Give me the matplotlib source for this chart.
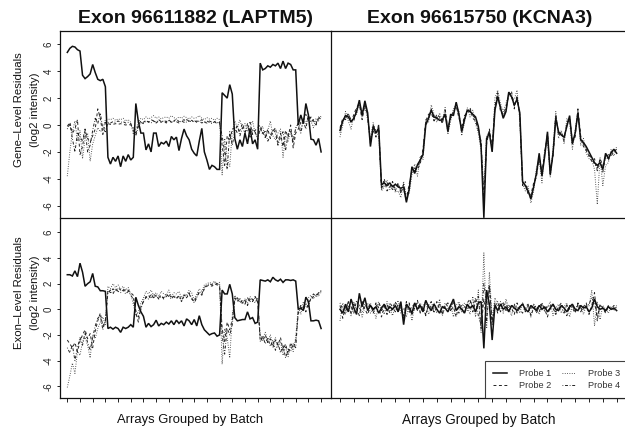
import numpy as np
import matplotlib
matplotlib.use('Agg')
import matplotlib.pyplot as plt

plt.rcParams['font.family'] = ['Liberation Sans', 'DejaVu Sans']

# ---------------- text ----------------
titles = ['Exon 96611882 (LAPTM5)', 'Exon 96615750 (KCNA3)']
row_label_1 = ['Gene\u2013Level Residuals', '(log2 intensity)']
row_label_2 = ['Exon\u2013Level Residuals', '(log2 intensity)']
x_label = 'Arrays Grouped by Batch'
probe_names = ['Probe 1', 'Probe 2', 'Probe 3', 'Probe 4']
y_ticks = [-6, -4, -2, 0, 2, 4, 6]
y_tick_labels = ['-6', '-4', '-2', '0', '2', '4', '6']
x_ticks = list(range(0, 101, 5))

# ---------------- data: gene-level residuals, LAPTM5 ----------------
gene_laptm5_p1 = [5.4, 5.7, 5.85, 5.8, 5.6, 5.5, 3.7, 3.45, 3.6, 3.8,
                  4.5, 3.9, 3.4, 3.3, 3.4, 2.85, -2.4, -2.9, -2.4, -2.7,
                  -2.3, -3.1, -2.3, -2.7, -2.2, -2.6, -2.4, 1.6, 0.25, -0.6,
                  -0.6, -1.85, -1.4, -2.0, -0.6, -0.6, -1.6, -1.3, -1.4, -1.2,
                  -1.6, -0.85, -1.1, -0.9, -1.9, -1.0, -0.3, -0.8, -1.1, -1.8,
                  -2.1, -2.3, -1.2, -0.25, -2.0, -2.6, -3.3, -3.0, -3.1, -3.3,
                  -3.3, 2.4, 2.2, 2.0, 3.0, 2.3, -1.0, -1.8, -1.1, -1.6,
                  -0.6, -1.4, -0.25, -1.4, -1.1, -1.8, 4.6, 4.1, 4.2, 4.4,
                  4.3, 4.5, 4.4, 4.6, 4.2, 4.75, 4.2, 4.6, 4.5, 4.1,
                  4.1, 0.0, 0.75, 0.1, 1.6, 0.75, -1.05, -1.1, -1.5, -1.0,
                  -2.0]
gene_laptm5_p2 = [-0.1, 0.2, -0.6, -0.3, 0.4, -2.2, -1.6, -0.4, -1.0, -1.3, -0.8, -0.3, 1.2, 0.5, -0.7, 0.2,
                  0.1, 0.05, 0.05, 0.1, 0.05, 0.1, 0.05, 0.0, 0.05, 0.0, -0.1, -0.6, 0.0,
                  0.3, 0.2, 0.35, 0.2, 0.4, 0.3, 0.15, 0.3, 0.2, 0.35, 0.25, 0.4, 0.2, 0.3, 0.45, 0.25,
                  0.3, 0.2, 0.4, 0.3, 0.35, 0.2, 0.3, 0.25, 0.4, 0.2, 0.15, 0.3, 0.2, 0.25, 0.1, 0.2,
                  -1.5, -3.0, -0.8, -1.2, -0.3,
                  -0.2, -0.6, -0.4, 0.1, -0.5, -0.3, 0.2, -0.7, -0.4, -0.2, 0.0, -0.6, -0.9, -0.3, -1.0,
                  -0.5, -0.2, -1.3, -0.6, -1.6, -0.4, -0.9, 0.0, -1.7, -0.6,
                  -0.3, 0.2, 0.4, 0.8, 0.3, 0.6, 0.3, 0.0, 0.5, 0.6]
gene_laptm5_p3 = [-3.8, -2.0, -0.5, 0.3, -1.2, -0.4, -2.5, -1.0, -0.6, -2.7, -1.4, -0.8, -0.2, -0.5, -0.3, 0.4,
                  0.45, 0.4, 0.5, 0.35, 0.45, 0.4, 0.5, 0.3, 0.4, 0.2, -0.7, -0.3, 0.2,
                  0.5, 0.4, 0.6, 0.45, 0.55, 0.7, 0.5, 0.6, 0.45, 0.55, 0.6, 0.5, 0.7, 0.55, 0.45, 0.6,
                  0.5, 0.65, 0.55, 0.45, 0.6, 0.5, 0.55, 0.7, 0.5, 0.4, 0.55, 0.45, 0.5, 0.35, 0.5, 0.4,
                  -3.7, -1.0, -2.5, -3.1, -0.5,
                  0.3, -0.2, 0.4, -0.3, 0.1, -0.5, -0.2, 0.3, -0.6, -0.9, -0.4, -0.1, -1.0, -0.4, 0.3,
                  -0.8, -1.1, -0.6, -0.3, -2.4, -0.8, -1.2, -0.5, -1.0, -0.3,
                  0.2, -0.4, 0.5, 0.1, 0.6, 0.3, -0.2, 0.5, 0.3, 0.7]
gene_laptm5_p4 = [-0.3, 0.1, -1.0, -2.0, -0.6, -0.9, -1.2, -0.3, -2.0, -1.5, -0.4, 0.5, 0.1, 0.9, -0.3, -0.5,
                  0.2, 0.15, 0.25, 0.2, 0.3, 0.2, 0.25, 0.15, 0.2, 0.1, -0.4, -0.8, -0.1,
                  0.2, 0.1, 0.3, 0.25, 0.15, 0.3, 0.2, 0.4, 0.25, 0.3, 0.15, 0.35, 0.2, 0.3, 0.25, 0.15,
                  0.3, 0.4, 0.2, 0.3, 0.25, 0.35, 0.2, 0.3, 0.15, 0.25, 0.3, 0.2, 0.1, 0.25, 0.2, 0.1,
                  -0.8, -2.0, -3.3, -0.5, -1.5,
                  -0.5, 0.0, -0.8, -0.2, -0.6, 0.1, -0.9, -0.3, -0.5, -1.1, -0.2, -0.7, -0.4, -1.2, -0.8,
                  -0.3, -0.6, -1.5, -0.9, -0.5, -1.9, -0.7, -0.4, -1.3, -0.2,
                  0.1, -0.6, 0.3, -0.3, 0.8, 0.2, 0.4, 0.1, 0.6, 0.4]

# ---------------- data: gene-level residuals, KCNA3 ----------------
gene_kcna3_p1 = [-0.4, 0.3, 0.7, 0.6, 0.25, 0.5, 1.0, 1.85, 0.7, 1.8, 0.9,
                 -1.6, -0.1, -0.6, -0.2, -4.45, -4.3, -4.5, -4.3, -4.6, -4.4,
                 -4.6, -4.7, -4.6, -5.75, -4.8, -3.1, -3.6, -2.95, -2.6, -2.2,
                 0.0, 0.5, 1.1, 0.6, 0.5, 0.35, 0.4, 0.8, -0.5, 0.8,
                 0.7, 1.7, 0.8, -0.5, 0.4, 1.1, 1.0, 0.8, 0.6, -0.1,
                 -1.6, -6.9, -1.0, -0.6, -2.0, 1.1, 2.1, 1.3, 0.5, 1.0,
                 2.45, 2.1, 1.5, 1.9, 0.9, -4.2, -4.5, -4.9, -5.5, -4.6,
                 -3.6, -2.1, -3.8, -2.3, -0.5, -3.7, -2.1, 0.5, -0.5, -0.75,
                 -0.9, -0.1, 0.7, -1.4, -0.6, 0.9, -1.1, -1.3, -1.6, -2.0,
                 -2.4, -2.8, -3.0, -2.8, -3.3, -2.1, -2.5, -2.05, -1.8, -2.1]
gene_kcna3_p2 = [-0.2, 0.5, 0.4, 0.9, 0.1, 0.8, 1.3, 1.5, 0.4, 1.5, 0.6,
                 -1.2, -0.4, -0.9, 0.1, -4.8, -4.0, -4.9, -4.6, -4.2, -4.9,
                 -4.3, -5.1, -4.4, -5.5, -4.4, -3.4, -3.2, -3.3, -2.9, -1.8,
                 0.3, 0.8, 0.9, 0.3, 0.8, 0.6, 0.1, 1.1, -0.2, 0.5,
                 1.0, 1.4, 0.5, -0.2, 0.7, 0.9, 1.3, 0.5, 0.3, -0.4,
                 -1.2, -5.5, -1.4, -0.3, -1.6, 1.4, 2.4, 1.0, 0.8, 1.3,
                 2.2, 2.5, 1.2, 2.2, 0.6, -4.5, -4.2, -5.2, -5.2, -4.3,
                 -3.9, -2.4, -3.5, -2.0, -0.8, -3.4, -2.4, 0.8, -0.8, -0.5,
                 -1.2, 0.2, 0.4, -1.1, -0.9, 1.2, -0.8, -1.6, -1.9, -2.3,
                 -2.7, -2.5, -3.4, -2.5, -3.0, -2.4, -2.2, -2.3, -2.0, -1.8]
gene_kcna3_p3 = [-0.9, 0.0, 1.0, 0.3, -0.3, 0.7, 0.8, 1.6, 1.0, 1.4, 0.4,
                 -1.0, 0.2, -0.8, -0.6, -4.9, -4.6, -4.1, -4.8, -4.4, -5.0,
                 -4.9, -5.4, -4.2, -5.3, -5.1, -3.7, -2.9, -3.8, -2.3, -2.6,
                 0.4, 0.2, 1.5, 0.8, 0.2, 0.9, 0.3, 1.3, -0.7, 0.3,
                 1.2, 1.5, 1.0, -0.8, 0.2, 1.3, 0.6, 1.1, 0.1, -0.6,
                 -1.9, -4.5, -0.8, -0.4, -1.8, 2.0, 2.6, 1.6, 1.0, 1.6,
                 2.3, 2.0, 1.9, 2.6, 0.3, -4.4, -4.9, -4.5, -5.8, -4.9,
                 -3.2, -2.6, -4.3, -1.8, -1.2, -3.9, -1.7, 1.0, -1.0, -0.4,
                 -1.4, 0.5, 0.2, -1.8, -0.4, 1.1, -1.5, -1.0, -2.1, -2.5,
                 -2.6, -3.3, -5.9, -2.4, -4.5, -3.0, -2.8, -1.8, -2.3, -1.6]
gene_kcna3_p4 = [-0.6, 0.4, 0.5, 0.8, 0.4, 0.3, 1.2, 1.7, 0.6, 1.6, 0.7,
                 -1.4, 0.0, -0.4, -0.4, -4.6, -4.5, -4.3, -4.5, -4.8, -4.6,
                 -4.4, -4.9, -4.8, -5.6, -4.6, -3.3, -3.4, -3.1, -2.7, -2.0,
                 0.2, 0.6, 1.2, 0.4, 0.6, 0.5, 0.2, 0.9, -0.4, 0.6,
                 0.9, 1.6, 0.7, -0.4, 0.5, 1.0, 1.1, 0.7, 0.5, -0.2,
                 -1.4, -6.0, -1.2, -0.5, -1.9, 1.2, 2.3, 1.2, 0.7, 1.1,
                 2.4, 2.3, 1.4, 2.0, 0.8, -4.3, -4.6, -5.0, -5.4, -4.5,
                 -3.7, -2.3, -3.6, -2.2, -0.6, -3.6, -2.2, 0.6, -0.6, -0.6,
                 -1.0, 0.0, 0.6, -1.3, -0.7, 1.0, -1.0, -1.4, -1.8, -2.2,
                 -2.5, -2.9, -3.2, -2.6, -3.5, -2.3, -2.6, -2.1, -1.9, -2.0]

# ---------------- data: exon-level residuals, LAPTM5 ----------------
exon_laptm5_p1 = [2.7, 2.7, 2.6, 3.0, 2.55, 3.6, 2.9, 1.8, 2.0, 2.15,
                  2.8, 1.8, 1.75, 1.45, 1.45, 1.4, -1.5, -1.4, -1.55, -1.4,
                  -1.5, -1.8, -1.4, -1.5, -1.4, -1.2, -1.4, 0.94, 0.3, -0.2,
                  -0.55, -1.4, -1.1, -1.35, -1.2, -0.85, -1.3, -1.1, -1.2, -1.0,
                  -1.15, -0.9, -1.2, -0.85, -1.1, -0.9, -1.3, -0.75, -0.9, -1.2,
                  -0.8, -1.3, -0.5, -1.2, -1.6, -1.8, -2.0, -1.9, -1.85, -2.1,
                  -2.0, 1.5, 1.2, 1.2, 1.95, 1.2, -0.65, -0.9, -0.85, -0.8,
                  -0.8, -0.2, -0.75, -0.65, -1.1, -1.0, 2.3, 2.25, 2.2, 2.3,
                  2.15, 2.5, 2.3, 2.2, 2.35, 2.1, 2.3, 2.3, 2.25, 2.3,
                  2.2, 0.0, 0.1, -0.1, 0.95, 0.6, -0.9, -0.9, -0.85, -0.9,
                  -1.5]
exon_laptm5_p2 = [-2.4, -2.7, -3.0, -2.6, -3.3, -2.5, -2.0, -1.6, -2.3, -1.9, -3.0, -1.7, -0.9, -0.3, -1.3, -1.0,
                  1.5, 1.3, 1.6, 1.4, 1.7, 1.5, 1.6, 1.4, 1.5, 1.3, 1.1,
                  -0.3, -1.0, 0.2, 0.6,
                  0.9, 1.1, 0.8, 1.2, 1.0, 0.9, 1.1, 0.8, 1.0, 1.2, 0.9, 1.0, 0.8, 1.1, 0.7,
                  1.0, 0.9, 1.2, 0.8, 0.6, 1.0, 1.3, 1.1, 1.6, 1.8, 1.9, 1.8, 2.0, 1.9, 1.8,
                  -1.5, -2.5, -1.0, -1.6, -0.8,
                  0.9, 0.6, 0.8, 0.5, 0.7, 0.3, 0.8, 0.6, 1.0, 0.6,
                  -2.2, -2.5, -2.0, -2.6, -2.3, -3.0, -2.4, -2.8, -2.2, -3.2, -2.7, -3.5, -2.6, -3.0, -2.5,
                  -0.3, 0.1, 0.3, -0.2, 0.5, 0.8, 1.0, 1.1, 1.2, 1.4]
exon_laptm5_p3 = [-6.1, -5.2, -4.2, -5.0, -3.3, -3.6, -2.5, -2.2, -2.8, -3.8, -2.0, -2.3, -1.5, -1.0, -0.6, -1.2,
                  1.8, 1.6, 2.0, 1.7, 1.9, 1.6, 1.8, 1.5, 1.7, 1.2, 0.4,
                  -0.5, -0.2, 0.5, 0.9,
                  1.4, 1.2, 1.5, 1.1, 1.3, 1.0, 1.4, 1.2, 1.1, 1.5, 1.0, 1.3, 1.2, 1.4, 0.9,
                  1.2, 1.1, 1.5, 1.3, 0.7, 1.2, 1.6, 1.4, 1.9, 2.0, 2.1, 2.0, 2.2, 2.0, 2.1,
                  -4.3, -1.5, -2.2, -3.8, -0.5,
                  1.1, 0.7, 0.9, 0.4, 0.8, 0.5, 1.0, 0.7, 0.9, 0.8,
                  -2.0, -2.3, -1.8, -2.5, -2.0, -2.8, -2.2, -3.0, -2.5, -3.6, -2.9, -3.7, -2.8, -3.3, -2.2,
                  0.2, -0.4, 0.6, 0.2, 0.9, 1.1, 0.8, 1.2, 1.0, 1.5]
exon_laptm5_p4 = [-3.0, -3.4, -2.8, -4.0, -3.0, -2.2, -2.8, -1.8, -2.6, -3.2, -2.2, -1.3, -0.7, -0.5, -1.6, -0.8,
                  1.3, 1.5, 1.2, 1.6, 1.4, 1.3, 1.5, 1.2, 1.4, 1.1, 0.8,
                  -0.1, -0.6, 0.0, 0.7,
                  1.0, 0.8, 1.2, 0.9, 1.1, 0.8, 1.0, 0.9, 1.2, 1.0, 0.8, 1.1, 0.9, 1.0, 0.6,
                  1.1, 1.0, 1.3, 0.9, 0.5, 0.9, 1.4, 1.2, 1.7, 1.9, 2.0, 1.9, 2.1, 2.0, 1.9,
                  -2.0, -3.5, -1.5, -2.0, -1.2,
                  0.7, 0.9, 0.5, 0.7, 0.4, 0.9, 0.6, 0.8, 0.5, 0.9,
                  -2.5, -2.1, -2.7, -2.2, -2.9, -2.4, -3.2, -2.6, -3.4, -2.8, -3.8, -3.1, -3.3, -2.7, -3.0,
                  -0.1, 0.3, 0.0, 0.4, 0.2, 0.9, 1.2, 1.0, 1.3, 1.3]

# ---------------- data: exon-level residuals, KCNA3 ----------------
exon_kcna3_p1 = [0.0, -0.3, 0.4, -0.2, 0.8, 0.1, -0.4, 1.25, 0.2, 0.9,
                 -0.1, 0.3, 0.0, 0.2, -0.3, 0.1, 0.4, -0.1, 0.2, 0.0,
                 0.3, -0.2, 0.6, -1.2, 0.4, 0.1, -0.3, 0.5, 0.0, 0.3,
                 -0.2, 0.7, 0.2, -0.1, 0.4, 0.0, -0.3, 0.2, 0.1, -0.2,
                 0.3, 0.8, -0.1, 0.2, 0.0, -0.3, 0.4, 0.1, 0.3, -0.2,
                 0.5, 0.6, -3.05, 1.5, 0.4, -2.4, 0.3, -0.1, 0.4, 0.0,
                 0.2, -0.2, 0.3, 0.1, -0.1, 0.2, 0.4, 0.0, -0.2, 0.3,
                 0.1, -0.1, 0.3, 0.0, 0.2, -0.2, 0.1, 0.4, 0.0, -0.1,
                 0.3, 0.1, -0.2, 0.2, 0.4, 0.0, -0.1, 0.3, 0.1, 0.2,
                 -0.2, 0.1, 0.8, 0.2, 0.0, 0.1, -0.1, 0.2, 0.0, 0.1,
                 -0.1]
exon_kcna3_p2 = [0.3, -0.7, 0.2, 0.5, -0.3, 0.4, 0.1, -0.5, 0.6, 0.0,
                 -0.4, 0.3, -0.2, 0.5, 0.1, -0.6, 0.2, 0.4, -0.3, 0.1,
                 0.6, -0.2, 0.3, -0.8, 0.2, 0.5, -0.4, 0.1, 0.7, -0.3,
                 0.2, -0.5, 0.4, 0.1, -0.2, 0.6, 0.0, -0.4, 0.3, 0.5,
                 -0.1, 0.2, -0.6, 0.4, 0.1, -0.3, 0.5, 0.8, -0.2, 0.6,
                 1.0, -1.5, 0.8, -1.0, 1.8, -1.2, 0.5, -0.3, 0.2, 0.6,
                 -0.2, 0.3, 0.1, -0.4, 0.5, 0.0, -0.3, 0.2, 0.4, -0.5,
                 0.1, 0.3, -0.2, 0.4, 0.0, -0.6, 0.3, 0.1, -0.4, 0.2,
                 0.5, -0.1, -0.5, 0.3, 0.1, -0.3, 0.4, -0.2, 0.2, 0.5,
                 -0.4, 0.3, 1.3, -0.9, 0.4, 0.1, -0.3, 0.2, 0.0, 0.3,
                 0.1]
exon_kcna3_p3 = [-0.9, 0.5, -0.2, 0.3, -0.5, 0.6, -0.1, 0.4, -0.6, 0.2,
                 0.5, -0.3, 0.1, -0.7, 0.4, 0.2, -0.4, 0.6, 0.0, -0.5,
                 0.3, 0.7, -0.3, 0.1, -0.6, 0.4, -0.9, 0.2, 0.5, -0.2,
                 0.3, 0.6, -0.4, 0.1, 0.5, -0.3, 0.8, -0.5, 0.2, 0.0,
                 0.4, -0.6, 0.3, 0.6, -0.2, 0.5, 0.2, -0.4, 1.0, -0.6,
                 1.5, -1.8, 4.4, -1.5, 2.9, -0.8, 0.9, 0.3, 0.6, -0.3,
                 0.8, 0.1, -0.5, 0.4, 0.2, -0.3, 0.5, -0.1, 0.3, -0.6,
                 0.4, 0.1, -0.4, 0.5, -0.2, 0.2, 0.6, -0.5, 0.1, 0.4,
                 -0.3, 0.2, 0.5, -0.6, 0.3, -0.2, 0.4, 0.1, -0.4, 0.3,
                 0.2, 1.5, -1.3, 0.6, -0.8, 0.3, 0.0, -0.3, 0.2, -0.1,
                 0.3]
exon_kcna3_p4 = [0.5, 0.0, -0.4, 0.6, 0.2, -0.3, 0.7, 0.1, -0.2, 0.4,
                 0.0, 0.5, -0.3, 0.2, 0.6, -0.1, 0.3, -0.4, 0.5, 0.2,
                 -0.2, 0.4, 0.1, -0.5, 0.6, -0.3, 0.2, 0.4, -0.1, 0.5,
                 0.0, -0.4, 0.3, 0.6, -0.2, 0.1, 0.4, -0.3, 0.5, 0.2,
                 -0.1, 0.6, 0.0, -0.3, 0.4, 0.2, -0.1, 0.6, 0.3, 0.9,
                 -0.5, -1.2, 2.0, 0.5, 1.9, -1.0, 0.2, 0.6, -0.2, 0.3,
                 0.5, -0.1, 0.2, 0.4, -0.3, 0.1, 0.5, -0.2, 0.3, 0.0,
                 0.4, -0.3, 0.2, 0.5, -0.1, 0.3, 0.0, 0.4, -0.2, 0.2,
                 0.1, -0.3, 0.4, 0.0, 0.3, -0.2, 0.5, 0.1, -0.1, 0.3,
                 0.4, 0.9, 0.5, -0.6, 0.3, 0.1, -0.2, 0.3, 0.1, 0.0,
                 0.2]

# ---------------- styles ----------------
styles = [dict(color='#111111', lw=1.1, ls='-'),
          dict(color='#222222', lw=0.7, ls=(0, (3.0, 2.6))),
          dict(color='#3a3a3a', lw=0.7, ls=(0, (0.8, 1.6))),
          dict(color='#222222', lw=0.7, ls=(0, (0.8, 1.8, 3.0, 1.8)))]

W, H = 625.0, 430.0
fig = plt.figure(figsize=(6.25, 4.3), dpi=100, facecolor='white')


def ax_at(x0, y0, x1, y1):
    a = fig.add_axes([x0 / W, 1 - y1 / H, (x1 - x0) / W, (y1 - y0) / H])
    a.set_facecolor('none')
    return a


ax_tl = ax_at(60, 31, 331, 218.5)
ax_tr = ax_at(331, 31, 628, 218.5)
ax_bl = ax_at(60, 218.5, 331, 398.3)
ax_br = ax_at(331, 218.5, 628, 398.3)

panels = [
    (ax_tl, [gene_laptm5_p4, gene_laptm5_p3, gene_laptm5_p2, gene_laptm5_p1], (-2.88, 103.9), (-6.95, 6.99)),
    (ax_tr, [gene_kcna3_p4, gene_kcna3_p3, gene_kcna3_p2, gene_kcna3_p1], (-3.25, 104.1), (-6.95, 6.99)),
    (ax_bl, [exon_laptm5_p4, exon_laptm5_p3, exon_laptm5_p2, exon_laptm5_p1], (-2.88, 103.9), (-6.95, 7.09)),
    (ax_br, [exon_kcna3_p4, exon_kcna3_p3, exon_kcna3_p2, exon_kcna3_p1], (-3.25, 104.1), (-6.95, 7.09)),
]

handles = {}
for ax, series, xl, yl in panels:
    for k, vals in enumerate(series):
        idx = 3 - k
        st = styles[idx]
        ln, = ax.plot(np.arange(len(vals)), vals, color=st['color'], lw=st['lw'],
                      ls=st['ls'], solid_joinstyle='miter')
        handles[idx] = ln
    ax.set_xlim(*xl)
    ax.set_ylim(*yl)
    for sp in ax.spines.values():
        sp.set_linewidth(0.9)
        sp.set_color('#111111')
    ax.set_xticks([])
    ax.set_yticks([])

# avoid doubled borders where panels meet
ax_bl.spines['top'].set_visible(False)
ax_br.spines['top'].set_visible(False)
ax_tr.spines['left'].set_visible(False)
ax_br.spines['left'].set_visible(False)

for ax in (ax_tl, ax_bl):
    ax.set_yticks(y_ticks)
    ax.set_yticklabels(y_tick_labels, rotation=90, va='center')
    ax.tick_params(axis='y', direction='out', length=2.3, width=0.7,
                   pad=2.4, labelsize=7.0, colors='#222222')

for ax in (ax_bl, ax_br):
    ax.set_xticks(x_ticks)
    ax.set_xticklabels([])
    ax.tick_params(axis='x', direction='out', length=3.0, width=0.7, colors='#222222')

# titles
fig.text(195.5 / W, 1 - 23.3 / H, titles[0], ha='center', va='baseline',
         fontsize=14, fontweight='bold', color='#111111')
fig.text(479.5 / W, 1 - 23.3 / H, titles[1], ha='center', va='baseline',
         fontsize=14, fontweight='bold', color='#111111')

# row labels
for (l1, l2), yc in ((row_label_1, 110), (row_label_2, 293)):
    fig.text(19.2 / W, 1 - yc / H, l1, rotation=90, ha='center', va='center',
             fontsize=8.2, color='#111111')
    fig.text(34.8 / W, 1 - yc / H, l2, rotation=90, ha='center', va='center',
             fontsize=8.2, color='#111111')

# x labels
fig.text(190 / W, 1 - 420 / H, x_label, ha='center', va='center', fontsize=9.4, color='#111111')
fig.text(479 / W, 1 - 420 / H, x_label, ha='center', va='center', fontsize=9.8, color='#111111')

# legend
leg = ax_br.legend([handles[0], handles[1], handles[2], handles[3]], probe_names,
                   loc='lower right', ncol=2, fontsize=6.6, frameon=True, fancybox=False,
                   borderaxespad=0.0, handlelength=1.5, handletextpad=1.3,
                   columnspacing=1.2, labelspacing=0.3, borderpad=0.9)
leg.get_frame().set_edgecolor('#111111')
leg.get_frame().set_linewidth(0.8)
for t in leg.get_texts():
    t.set_color('#333333')

fig.savefig('out.png', dpi=100)
